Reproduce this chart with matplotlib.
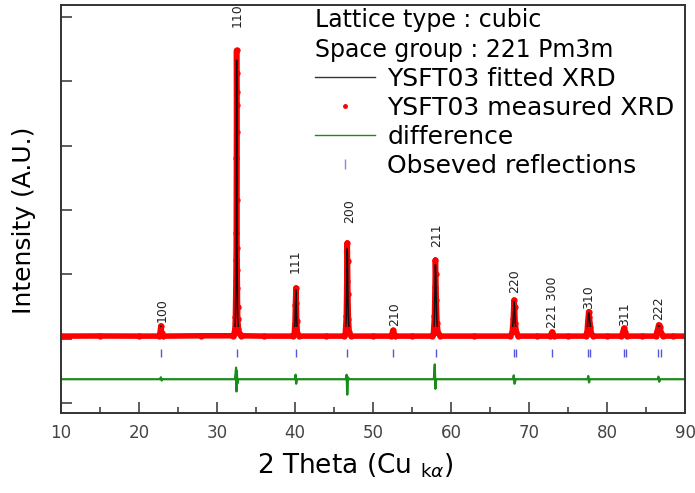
import matplotlib
matplotlib.use("Agg")
import matplotlib.pyplot as plt
from matplotlib.lines import Line2D
from matplotlib.patches import Rectangle

# measured / fitted pattern (2theta, intensity a.u.)
two_theta = [10.0, 15.0, 20.0, 22.55, 22.7, 22.8, 22.9, 23.05, 28.0, 32.0, 32.2, 32.3,
             32.36, 32.40, 32.43, 32.45, 32.47, 32.49, 32.50, 32.51, 32.52, 32.53, 32.54,
             32.55, 32.57, 32.59, 32.61, 32.63, 32.66, 32.75, 32.9, 33.1, 36.0,
             39.7, 39.9, 40.0, 40.05, 40.12, 40.17, 40.22, 40.3, 40.5, 44.0,
             46.3, 46.45, 46.58, 46.64, 46.7, 46.74, 46.78, 46.85, 46.95, 47.2, 50.0,
             52.3, 52.45, 52.55, 52.65, 52.8, 55.0,
             57.55, 57.75, 57.88, 57.95, 58.0, 58.05, 58.11, 58.2, 58.35, 58.65, 63.0,
             67.6, 67.85, 67.98, 68.08, 68.15, 68.23, 68.38, 68.6, 71.0,
             72.7, 72.95, 73.2, 75.0,
             77.25, 77.45, 77.55, 77.65, 77.75, 77.88, 78.0, 78.25, 80.0,
             81.85, 82.02, 82.17, 82.32, 82.5, 84.5,
             86.25, 86.45, 86.62, 86.78, 86.95, 87.15, 88.5, 90.0]
measured = [40, 42, 40, 40, 90, 200, 95, 40, 45, 45, 80, 150,
            341, 651, 915, 1225, 1643, 2806, 3628, 4481, 4124, 3829, 3209,
            2155, 1411, 1070, 791, 496, 300, 150, 70, 45, 40,
            40, 70, 250, 520, 790, 560, 280, 90, 40, 40,
            40, 80, 350, 900, 1490, 1200, 700, 300, 100, 40, 40,
            40, 80, 130, 80, 40, 40,
            40, 80, 350, 800, 1225, 1000, 600, 250, 90, 40, 40,
            40, 100, 300, 600, 500, 250, 100, 40, 40,
            40, 105, 40, 40,
            40, 110, 280, 420, 330, 180, 80, 40, 40,
            40, 100, 165, 110, 40, 40,
            40, 120, 215, 180, 90, 40, 40, 40]
fitted = [40, 42, 40, 40, 90, 190, 95, 40, 45, 45, 80, 150,
          341, 651, 915, 1225, 1643, 2806, 3700, 4330, 4150, 3829, 3209,
          2155, 1411, 1070, 791, 496, 300, 150, 70, 45, 40,
          40, 70, 250, 520, 760, 560, 280, 90, 40, 40,
          40, 80, 350, 900, 1400, 1200, 700, 300, 100, 40, 40,
          40, 80, 120, 80, 40, 40,
          40, 80, 350, 800, 1150, 1000, 600, 250, 90, 40, 40,
          40, 100, 300, 580, 500, 250, 100, 40, 40,
          40, 100, 40, 40,
          40, 110, 280, 400, 330, 180, 80, 40, 40,
          40, 100, 160, 110, 40, 40,
          40, 120, 205, 180, 90, 40, 40, 40]

# difference curve
diff_x = [10.0, 22.7, 22.8, 22.9, 23.0, 32.3, 32.45, 32.5, 32.55, 32.6, 32.75,
          40.0, 40.08, 40.15, 40.25, 46.5, 46.62, 46.7, 46.8, 46.9,
          57.8, 57.92, 58.0, 58.1, 67.95, 68.05, 68.15, 68.3,
          77.5, 77.6, 77.7, 77.8, 86.5, 86.6, 86.7, 86.8, 90.0]
diff_y = [-630, -630, -600, -650, -630, -630, -450, -820, -500, -700, -630,
          -630, -560, -700, -630, -630, -560, -870, -600, -630,
          -630, -400, -780, -630, -630, -570, -700, -630,
          -630, -580, -680, -630, -630, -590, -670, -630, -630]

# observed reflection positions (incl. Ka2 doublets)
refl_pos = [22.82, 32.52, 40.13, 46.7, 52.6, 58.05, 68.08, 68.36, 72.97,
            77.6, 77.86, 82.14, 82.4, 86.58, 86.9]

# hkl labels
hkl = ['100', '110', '111', '200', '210', '211', '220', '221 300', '310', '311', '222']
hkl_x = [22.95, 32.6, 40.05, 47.0, 52.75, 58.2, 68.1, 72.95, 77.65, 82.2, 86.65]
hkl_y = [260, 4840, 1020, 1800, 200, 1426, 713, 160, 460, 200, 290]

fig = plt.figure(figsize=(6.95, 4.93), dpi=100)
ax = fig.add_axes([61/695, 80/493, 624/695, 408/493])

ax.plot(two_theta, measured, color='red', lw=4.0, marker='o', ms=3.5,
        solid_joinstyle='round', zorder=2)
fit_line, = ax.plot(two_theta, fitted, color='#111111', lw=1.1, zorder=3)
# fitted line only shows through where the peaks rise above the red band
clip = Rectangle((10, 180), 80, 6000, transform=ax.transData)
fit_line.set_clip_path(clip)
ax.plot(diff_x, diff_y, color='#1b8c1b', lw=1.6, zorder=2)
ax.vlines(refl_pos, -280, -155, color='#5555dd', lw=1.0, zorder=2)

for lab, x, y in zip(hkl, hkl_x, hkl_y):
    ax.text(x, y, lab, rotation=90, ha='center', va='bottom', fontsize=9, color='#222222')

ax.set_xlim(10, 90)
ax.set_ylim(-1155, 5186)
ax.set_xticks(range(10, 91, 10))
ax.set_xticks(range(15, 90, 10), minor=True)
ax.set_yticks(range(-1000, 5001, 1000))
ax.set_yticklabels([])
ax.tick_params(axis='x', which='major', direction='in', length=8, width=1.1,
               labelsize=12, labelcolor='#444444', pad=8, color='#333333')
ax.tick_params(axis='x', which='minor', direction='in', length=4, width=1.1, color='#333333')
ax.tick_params(axis='y', direction='in', length=8, width=1.1, color='#333333')
for s in ax.spines.values():
    s.set_linewidth(1.4)
    s.set_color('#333333')

ax.set_xlabel(r'2 Theta (Cu $_{\mathrm{k}\alpha}$)', fontsize=19)
ax.xaxis.set_label_coords(0.471, -0.095)
ax.set_ylabel('Intensity (A.U.)', fontsize=18)
ax.yaxis.set_label_coords(-0.04, 0.473)

ax.text(0.407, 0.963, 'Lattice type : cubic', transform=ax.transAxes,
        fontsize=17, va='center', ha='left')
ax.text(0.407, 0.890, 'Space group : 221 Pm3m', transform=ax.transAxes,
        fontsize=17, va='center', ha='left')

handles = [
    Line2D([], [], color='#333333', lw=1.0),
    Line2D([], [], color='red', ls='none', marker='o', ms=2.5),
    Line2D([], [], color='#1b8c1b', lw=1.0),
    Line2D([], [], color='#8888dd', ls='none', marker='|', ms=7, mew=1),
]
labels = ['YSFT03 fitted XRD', 'YSFT03 measured XRD', 'difference', 'Obseved reflections']
ax.legend(handles, labels, loc='upper left', bbox_to_anchor=(0.407, 0.848),
          frameon=False, fontsize=18, borderpad=0, borderaxespad=0,
          handlelength=2.4, handletextpad=0.5, labelspacing=0.2, numpoints=1)

fig.savefig('out.png', dpi=100)
